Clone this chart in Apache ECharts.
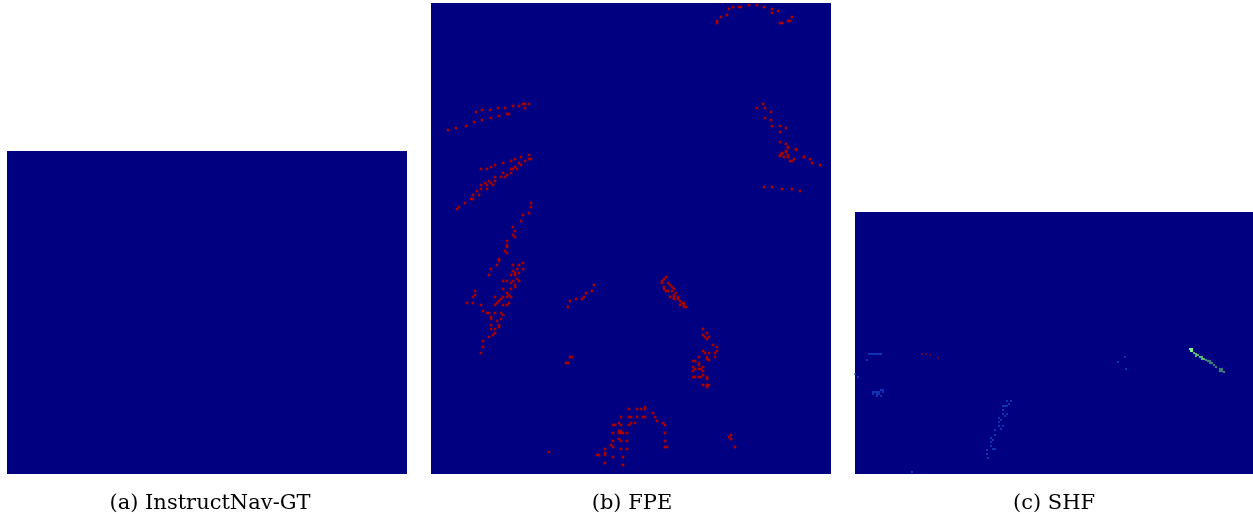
<!DOCTYPE html>
<html><head><meta charset="utf-8">
<script src="https://cdn.jsdelivr.net/npm/echarts@6/dist/echarts.min.js"></script>
<style>html,body{margin:0;padding:0;background:#fff}#c{width:1253px;height:514px}</style>
</head><body><div id="c"></div>
<script>
// Panel captions
const captions = ['(a) InstructNav-GT', '(b) FPE', '(c) SHF'];

// Panel (a): ground truth map — no error points
const aPoints = [];

// Panel (b): FPE error points [col, row]
const bPoints = [
 [314,1],[318,1],[318,5],[326,5],[333,7],[341,9],[347,11],[341,13],[302,7],[308,7],[310,7],[298,9],[296,15],[290,17],[286,21],[286,23],[349,23],[351,23],[357,21],[359,21],[361,17],
 [17,130],[25,128],[35,126],[43,122],[51,120],[45,112],[51,110],[59,110],[67,108],[74,108],[82,106],[88,106],[92,104],[94,104],[98,104],[94,108],[76,114],[78,114],[60,118],[68,116],
 [332,104],[326,108],[334,108],[340,112],[334,118],[340,120],[341,126],[349,126],[355,128],[349,132],[349,142],[355,144],[357,148],[355,152],[365,150],[351,154],[349,156],[357,156],[373,157],
 [98,155],[90,157],[84,159],[80,161],[72,163],[64,165],[60,167],[56,169],[50,169],[88,163],[90,165],[84,167],[82,169],[80,169],[86,169],[94,161],[98,159],[100,159],[80,173],[72,173],[76,175],[74,177],[70,177],[64,177],[64,181],[58,181],[54,183],[60,183],[62,185],[56,185],[50,185],[50,189],[56,189],[46,191],[42,195],[48,195],[40,199],[42,199],[34,203],[28,207],[26,209],
 [357,147],[355,151],[351,153],[349,155],[353,157],[357,155],[357,157],[363,159],[361,161],[359,161],[365,149],[373,157],[379,159],[381,163],[389,165],[333,187],[341,187],[351,189],[361,189],[369,191],
 [100,203],[100,207],[98,213],[92,215],[90,221],[82,227],[84,231],[82,235],[84,237],[76,241],[76,245],[76,247],[74,251],[76,253],[68,259],[68,261],[66,265],[60,269],[58,275],[82,265],[88,265],[92,263],[92,269],[86,269],[82,271],[84,273],[88,273],[80,275],[84,275],[86,279],[88,281],[76,281],[72,281],[82,281],[80,283],[84,285],[84,287],[72,289],[80,289],[76,293],[78,295],[76,297],[72,297],[64,297],[80,297],[70,299],[44,291],[44,295],[42,297],[36,303],[42,303],[50,305],[78,303],[68,301],[66,303],[64,305],[72,305],[76,305],[52,311],[56,313],[58,313],[64,313],[70,313],[72,315],
 [163,285],[161,291],[155,293],[153,297],[151,299],[145,299],[139,301],[137,307],
 [235,277],[233,279],[231,281],[231,283],[237,283],[239,285],[233,287],[233,289],[241,287],[243,289],[235,291],[237,291],[241,291],[245,293],[243,295],[239,297],[243,297],[247,297],[243,299],[247,299],[249,301],[251,303],[253,303],[249,305],[253,305],[255,307],[253,307],
 [60,317],[60,319],[70,319],[66,321],[60,325],[68,325],[68,327],[60,329],[64,329],[64,333],[62,335],[58,337],[52,341],[52,347],[50,353],
 [139,357],[141,357],[135,363],[137,363],[118,452],
 [272,329],[276,333],[272,335],[274,337],[278,337],[276,339],[282,345],[286,347],[272,351],[274,353],[278,353],[284,353],[286,351],[268,357],[276,357],[284,357],[276,359],[278,360],[262,361],[264,361],[268,363],[268,365],[262,367],[264,369],[272,367],[268,369],[270,369],[262,371],[272,371],[272,375],[262,377],[264,377],[270,377],[268,377],[276,377],[276,379],[272,385],[276,385],[278,385],[276,387],
 [198,409],[206,409],[210,409],[214,407],[214,409],[222,413],[224,417],[226,421],[232,423],[234,425],[234,433],[234,441],[234,447],[236,447],[190,417],[198,417],[200,417],[206,417],[212,417],[214,417],[200,423],[204,423],[198,425],[190,425],[188,423],[184,425],[182,425],[182,433],[188,431],[190,431],[192,433],[190,433],[196,433],[188,439],[190,441],[182,441],[196,441],[180,445],[182,447],[174,449],[190,449],[196,449],[168,455],[166,455],[174,455],[174,453],[182,457],[192,457],[174,463],[192,465],[188,433],
 [300,435],[298,437],[300,439],[304,447]
];

// Panel (c): SHF points grouped by error level
const cBlue = [
 [14,354],[16,354],[18,354],[20,354],[22,354],[24,354],[26,354],[12,360],[0,374],[3,377],[18,392],[18,394],[20,392],[22,392],[24,392],[24,394],[22,396],[26,396],[26,390],[28,390],[28,392],[22,394],
 [152,401],[156,401],[154,404],[148,406],[150,406],[152,406],[148,410],[148,414],[152,414],[150,416],[144,418],[144,422],[146,420],[144,426],[148,426],[146,429],[140,430],[140,435],[136,438],[138,440],[136,442],[136,446],[138,449],[140,449],[132,450],[132,454],[133,458],[57,472],
 [270,357],[263,362],[271,369]
];
const cRed = [[67,354],[71,354],[75,355],[83,358]];
const cGreenLight = [[335,349],[337,349],[336,351],[337,351]];
const cGreen = [[339,353],[341,354],[343,355],[341,356],[345,357],[347,357],[347,359],[349,359]];
const cGreenDark = [[351,360],[353,361],[355,361],[355,363],[357,363],[359,365],[361,367],[365,369],[367,369],[367,371],[369,372],[365,371]];

const NAVY = '#000080';
const panels = [
 {left:7, top:151, width:400, height:323, xmax:400, ymin:151, ymax:474},
 {left:431, top:3, width:400, height:471, xmax:400, ymin:3, ymax:474},
 {left:855, top:212, width:398, height:262, xmax:398, ymin:212, ymax:474}
];
const grid = panels.map(p => ({left:p.left, top:p.top, width:p.width, height:p.height, show:true, backgroundColor:NAVY, borderWidth:0}));
const xAxis = panels.map((p,i) => ({gridIndex:i, type:'value', min:0, max:p.xmax, show:false}));
const yAxis = panels.map((p,i) => ({gridIndex:i, type:'value', min:p.ymin, max:p.ymax, inverse:true, show:false}));
function sc(i, data, color, size){
  return {type:'scatter', xAxisIndex:i, yAxisIndex:i, data:data, symbol:'rect', symbolSize:size, itemStyle:{color:color, opacity:1}, silent:true, animation:false};
}
const series = [
  sc(0, aPoints, '#aa0000', 2),
  sc(1, bPoints, '#aa0000', 2.6),
  sc(2, cBlue, '#1a55d6', 1.6),
  sc(2, cRed, '#900010', 1.6),
  sc(2, cGreenLight, '#80f090', 2),
  sc(2, cGreen, '#4fb87a', 2),
  sc(2, cGreenDark, '#3d7a78', 2.2)
];
const centers = [205, 627, 1049];
const title = captions.map((t,i) => ({text:t, left:centers[i], top:488, textAlign:'center',
  textStyle:{fontFamily:'DejaVu Serif', fontWeight:'normal', fontSize:21, color:'#000'}}));

const chart = echarts.init(document.getElementById('c'), null, {renderer:'canvas'});
chart.setOption({animation:false, title, grid, xAxis, yAxis, series});
</script></body></html>
